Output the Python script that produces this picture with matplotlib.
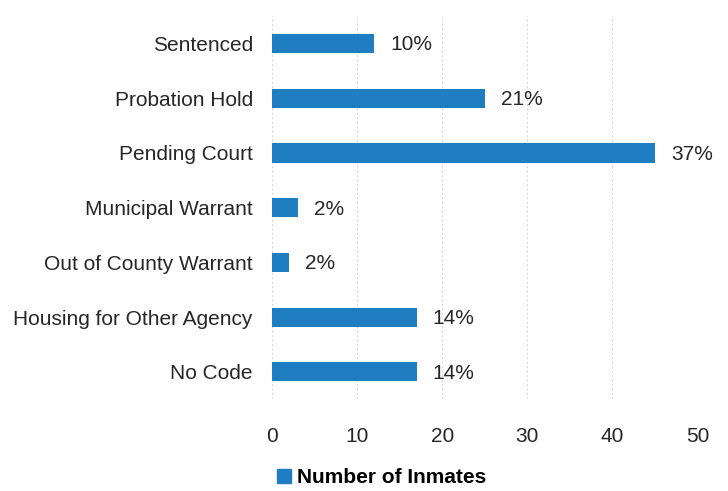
import matplotlib

matplotlib.use("Agg")
import matplotlib.pyplot as plt
from matplotlib.patches import Patch

BLUE = "#1f7dc2"
INK = "#262626"
GRID = "#d9d9d9"

plt.rcParams["font.family"] = ["Liberation Sans", "DejaVu Sans"]

# --- data ---------------------------------------------------------------
categories = [
    "Sentenced",
    "Probation Hold",
    "Pending Court",
    "Municipal Warrant",
    "Out of County Warrant",
    "Housing for Other Agency",
    "No Code",
]
inmates = [12, 25, 45, 3, 2, 17, 17]
pct_labels = ["10%", "21%", "37%", "2%", "2%", "14%", "14%"]
x_ticks = [0, 10, 20, 30, 40, 50]

fig = plt.figure(figsize=(7.28, 4.91), dpi=100)
ax = fig.add_axes([0.374, 0.187, 0.584, 0.78])

ypos = range(len(categories))
ax.barh(ypos, inmates, height=0.35, color=BLUE, zorder=3)
ax.set_yticks(list(ypos), categories)
ax.set_ylim(len(categories) - 0.5, -0.5)

for i, (v, lab) in enumerate(zip(inmates, pct_labels)):
    ax.annotate(lab, (v, i), textcoords="offset points", xytext=(11.5, -1),
                ha="left", va="center", fontsize=15, color=INK)

ax.set_xlim(0, 50)
ax.set_xticks(x_ticks)
ax.grid(axis="x", color=GRID, linewidth=0.8, linestyle=(0, (2, 2)), zorder=0)
for s in ax.spines.values():
    s.set_visible(False)
ax.tick_params(axis="y", length=0, labelsize=15, pad=14, labelcolor=INK)
ax.tick_params(axis="x", length=0, labelsize=15, pad=20, labelcolor=INK)

handle = Patch(color=BLUE)
fig.legend([handle], ["Number of Inmates"], loc="center left",
           bbox_to_anchor=(0.355, 0.027), frameon=False,
           prop={"weight": "bold", "size": 15}, handlelength=0.65,
           handleheight=0.65, handletextpad=0.3)

fig.savefig("out.png")
